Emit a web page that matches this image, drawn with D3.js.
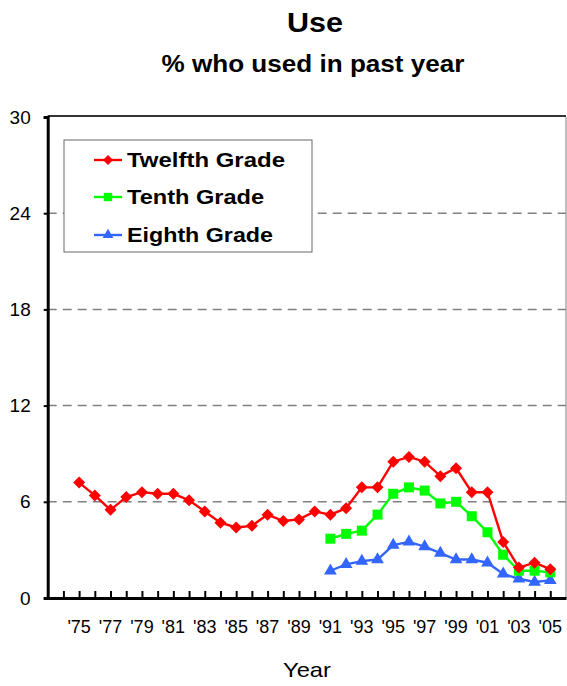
<!DOCTYPE html>
<html><head><meta charset="utf-8">
<script src="https://cdn.jsdelivr.net/npm/d3@7"></script>
<style>body{margin:0;background:#fff}svg{display:block;font-family:Arial,"Liberation Sans",sans-serif}</style>
</head><body>
<svg id="c" width="567" height="686"></svg>
<script>
const years12 = [1975,1976,1977,1978,1979,1980,1981,1982,1983,1984,1985,1986,1987,1988,1989,1990,1991,1992,1993,1994,1995,1996,1997,1998,1999,2000,2001,2002,2003,2004,2005];
const twelfth = [7.2,6.4,5.5,6.3,6.6,6.5,6.5,6.1,5.4,4.7,4.4,4.5,5.2,4.8,4.9,5.4,5.2,5.6,6.9,6.9,8.5,8.8,8.5,7.6,8.1,6.6,6.6,3.5,1.9,2.2,1.8];
const years10 = [1991,1992,1993,1994,1995,1996,1997,1998,1999,2000,2001,2002,2003,2004,2005];
const tenth = [3.7,4.0,4.2,5.2,6.5,6.9,6.7,5.9,6.0,5.1,4.1,2.7,1.7,1.7,1.6];
const eighth = [1.7,2.1,2.3,2.4,3.3,3.5,3.2,2.8,2.4,2.4,2.2,1.5,1.2,1.0,1.1];
const yTicks = [0,6,12,18,24,30];
const xLabelYears = [1975,1977,1979,1981,1983,1985,1987,1989,1991,1993,1995,1997,1999,2001,2003,2005];
const seriesNames = ["Twelfth Grade","Tenth Grade","Eighth Grade"];

const svg = d3.select("#c");
const L = 47.7, R = 566, T = 117, B = 598;
const x = d3.scaleLinear().domain([1973, 2006]).range([L, R]);
const y = d3.scaleLinear().domain([0, 30]).range([B, T]);

// titles
svg.append("text").attr("x", 315).attr("y", 32).attr("text-anchor","middle")
  .attr("font-size", 27).attr("font-weight","bold")
  .attr("textLength", 56).attr("lengthAdjust","spacingAndGlyphs").text("Use");
svg.append("text").attr("x", 313).attr("y", 72).attr("text-anchor","middle")
  .attr("font-size", 23).attr("font-weight","bold")
  .attr("textLength", 303).attr("lengthAdjust","spacingAndGlyphs").text("% who used in past year");

// gridlines
svg.append("g").selectAll("line").data(yTicks.filter(d => d > 0 && d < 30)).join("line")
  .attr("x1", L).attr("x2", R).attr("y1", d => y(d)).attr("y2", d => y(d))
  .attr("stroke", "#808080").attr("stroke-width", 1.5).attr("stroke-dasharray", "9,6");

// frame top and right
svg.append("line").attr("x1", L).attr("x2", R).attr("y1", T-1).attr("y2", T-1).attr("stroke","#333").attr("stroke-width",2);
svg.append("line").attr("x1", R).attr("x2", R).attr("y1", T).attr("y2", B).attr("stroke","#808080").attr("stroke-width",1);

// y axis
const yAxis = d3.axisLeft(y).tickValues(yTicks).tickSize(4).tickPadding(13);
const gy = svg.append("g").attr("transform", `translate(${L},0)`).call(yAxis);
gy.select(".domain").attr("stroke","#000").attr("stroke-width",3);
gy.selectAll(".tick line").attr("stroke","#000").attr("stroke-width",2);
gy.selectAll(".tick text").attr("font-size",19).attr("font-family","Arial, 'Liberation Sans', sans-serif").attr("fill","#000");

// x axis
const tickYears = d3.range(1974, 2006);
const xAxis = d3.axisBottom(x).tickValues(tickYears).tickSize(-7).tickSizeOuter(0).tickFormat("");
const gx = svg.append("g").attr("transform", `translate(0,${B})`).call(xAxis);
gx.select(".domain").attr("stroke","#000").attr("stroke-width",3);
gx.selectAll(".tick line").attr("stroke","#000").attr("stroke-width",2);

svg.append("g").selectAll("text").data(xLabelYears).join("text")
  .attr("x", d => x(d)).attr("y", 633).attr("text-anchor","middle")
  .attr("font-size", 18).text(d => "'" + String(d).slice(2));

svg.append("text").attr("x", 307).attr("y", 677).attr("text-anchor","middle")
  .attr("font-size", 21).attr("textLength", 48).attr("lengthAdjust","spacingAndGlyphs").text("Year");

// series
const colors = ["#FF0000", "#00FF00", "#3366FF"];
const data = [
  years12.map((yr,i) => [yr, twelfth[i]]),
  years10.map((yr,i) => [yr, tenth[i]]),
  years10.map((yr,i) => [yr, eighth[i]])
];
const squareDiamond = { draw(ctx, size) { const r = Math.sqrt(size / 2);
  ctx.moveTo(0, -r); ctx.lineTo(r, 0); ctx.lineTo(0, r); ctx.lineTo(-r, 0); ctx.closePath(); } };
const symbols = [squareDiamond, d3.symbolSquare, d3.symbolTriangle];
const sizes = [72, 100, 70];
const line = d3.line().x(d => x(d[0])).y(d => y(d[1]));

[2,1,0].forEach(k => {
  const g = svg.append("g");
  g.append("path").datum(data[k]).attr("d", line).attr("fill","none")
    .attr("stroke", colors[k]).attr("stroke-width", 2.4);
  g.selectAll("path.m").data(data[k]).join("path").attr("class","m")
    .attr("transform", d => `translate(${x(d[0])},${y(d[1])})`)
    .attr("d", d3.symbol().type(symbols[k]).size(sizes[k])).attr("fill", colors[k]);
});

// legend
const lg = svg.append("g");
lg.append("rect").attr("x", 64).attr("y", 140).attr("width", 248).attr("height", 112)
  .attr("fill","#fff").attr("stroke","#666").attr("stroke-width",1);
const legY = [160, 197, 235];
const legW = [158, 137, 146];
seriesNames.forEach((n,k) => {
  lg.append("line").attr("x1", 94).attr("x2", 122).attr("y1", legY[k]).attr("y2", legY[k])
    .attr("stroke", colors[k]).attr("stroke-width", 2.4);
  lg.append("path").attr("transform", `translate(108,${legY[k]})`)
    .attr("d", d3.symbol().type(symbols[k]).size(sizes[k]*0.7)).attr("fill", colors[k]);
  lg.append("text").attr("x", 127).attr("y", legY[k] + 7).attr("font-size", 21)
    .attr("font-weight","bold").attr("textLength", legW[k]).attr("lengthAdjust","spacingAndGlyphs").text(n);
});
</script>
</body></html>
